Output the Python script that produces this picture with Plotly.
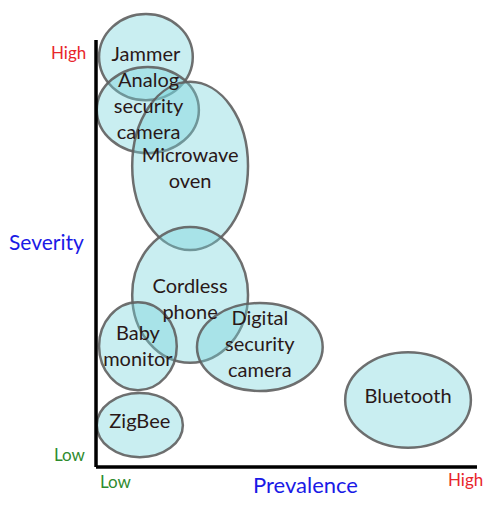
import plotly.graph_objects as go

# data: devices, position (prevalence, severity) and spread of each bubble
devices = ["Jammer", "Analog<br>security<br>camera", "Microwave<br>oven", "Cordless<br>phone",
           "Baby<br>monitor", "Digital<br>security<br>camera", "Bluetooth", "ZigBee"]
prevalence = [1.31, 1.36, 2.47, 2.47, 1.10, 4.30, 8.19, 1.15]
severity = [9.60, 8.36, 7.05, 4.03, 2.83, 2.81, 1.57, 0.98]
prev_spread = [1.23, 1.34, 1.52, 1.52, 1.02, 1.65, 1.65, 1.13]
sev_spread = [1.01, 1.01, 1.97, 1.59, 1.03, 1.03, 1.12, 0.75]
label_prev = [1.31, 1.38, 2.47, 2.47, 1.10, 4.30, 8.19, 1.15]
label_sev = [9.63, 8.41, 6.96, 3.88, 2.78, 2.84, 1.62, 1.03]

FILL = "rgba(117,211,219,0.39)"
EDGE = "rgba(95,95,95,0.9)"
FONT = "Comic Sans MS, Lato, DejaVu Sans, sans-serif"

fig = go.Figure()

shapes = []
for x, y, rx, ry in zip(prevalence, severity, prev_spread, sev_spread):
    shapes.append(dict(type="circle", xref="x", yref="y",
                       x0=x - rx, x1=x + rx, y0=y - ry, y1=y + ry,
                       fillcolor=FILL, line=dict(color=EDGE, width=2.5), layer="below"))

# L-shaped axes
shapes.append(dict(type="line", xref="x", yref="y", x0=0, x1=0, y0=0, y1=10,
                   line=dict(color="black", width=3.5)))
shapes.append(dict(type="line", xref="x", yref="y", x0=0, x1=10, y0=0, y1=0,
                   line=dict(color="black", width=3.5)))

fig.add_trace(go.Scatter(x=label_prev, y=label_sev, mode="text", text=devices,
                         textfont=dict(family=FONT, size=20, color="#2a1818"),
                         hoverinfo="skip", showlegend=False))

annots = [
    dict(x=-1.30, y=5.29, text="Severity", font=dict(size=21, color="#1a1ae6")),
    dict(x=5.49, y=-0.42, text="Prevalence", font=dict(size=22, color="#1a1ae6")),
    dict(x=-0.73, y=9.70, text="High", font=dict(size=17, color="#e8262b")),
    dict(x=-0.68, y=0.30, text="Low", font=dict(size=17, color="#2e8b2e")),
    dict(x=0.52, y=-0.35, text="Low", font=dict(size=17, color="#2e8b2e")),
    dict(x=9.71, y=-0.30, text="High", font=dict(size=17, color="#e8262b")),
]
for a in annots:
    a.update(xref="x", yref="y", showarrow=False)
    a["font"]["family"] = FONT

# the page body has an 8px margin, so the plot starts at (8, 8)
fig.update_layout(
    width=492, height=497,
    margin=dict(l=0, r=0, t=0, b=0),
    paper_bgcolor="white", plot_bgcolor="white",
    shapes=shapes, annotations=annots,
    xaxis=dict(range=[-2.31, 10.604], visible=False, fixedrange=True),
    yaxis=dict(range=[-0.89, 10.749], visible=False, fixedrange=True),
)

fig.write_html("out.html")
